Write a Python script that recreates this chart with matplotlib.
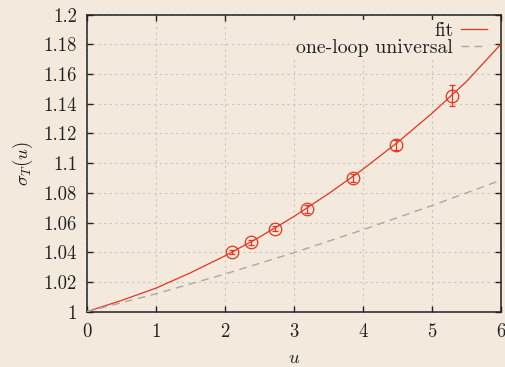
import matplotlib
matplotlib.use("Agg")
import matplotlib.pyplot as plt

u_data = [2.11, 2.38, 2.73, 3.20, 3.86, 4.49, 5.30]
sigma_data = [1.0402, 1.0467, 1.0559, 1.0692, 1.0898, 1.1123, 1.1455]
sigma_err = [0.0013, 0.0015, 0.0018, 0.0025, 0.0028, 0.0034, 0.0071]

# fit curve
u_fit = [0, 0.5, 1, 1.5, 2, 2.5, 3, 3.5, 4, 4.5, 5, 5.5, 6]
sigma_fit = [1.0, 1.0075, 1.0158, 1.0261, 1.0375, 1.0501, 1.0640, 1.0793,
             1.0958, 1.1138, 1.1334, 1.1548, 1.1800]

# one-loop universal curve
u_loop = [0, 1, 2, 3, 4, 5, 6]
sigma_loop = [1.0, 1.0120, 1.0253, 1.0397, 1.0551, 1.0714, 1.0885]

xticks = [0, 1, 2, 3, 4, 5, 6]
yticks = [1.0, 1.02, 1.04, 1.06, 1.08, 1.1, 1.12, 1.14, 1.16, 1.18, 1.2]
yticklabels = ["1", "1.02", "1.04", "1.06", "1.08", "1.1", "1.12", "1.14",
               "1.16", "1.18", "1.2"]

bg = "#f3eadd"
red = "#e8321e"
gray = "#a8a8a8"

plt.rcParams["font.family"] = "serif"
plt.rcParams["font.serif"] = ["cmr10"]
plt.rcParams["mathtext.fontset"] = "cm"
plt.rcParams["axes.formatter.use_mathtext"] = True
plt.rcParams["font.size"] = 13.5

fig = plt.figure(figsize=(5.06, 3.67), dpi=100, facecolor=bg)
ax = fig.add_axes([0.1713, 0.1507, 0.8182, 0.8093])
ax.set_facecolor(bg)

ax.plot(u_fit, sigma_fit, color=red, lw=0.9, label="fit", zorder=3)
ax.plot(u_loop, sigma_loop, color=gray, lw=1.0, dashes=(5.5, 4),
        label="one-loop universal", zorder=3)
ax.errorbar(u_data, sigma_data, yerr=sigma_err, fmt="o", mfc="none",
            mec=red, ecolor=red, ms=9, mew=0.9, elinewidth=0.9,
            capsize=2, capthick=0.9, zorder=3)

ax.set_xlim(0, 6)
ax.set_ylim(1.0, 1.2)
ax.set_xticks(xticks)
ax.set_xticklabels([str(t) for t in xticks])
ax.set_yticks(yticks)
ax.set_yticklabels(yticklabels)
ax.tick_params(direction="in", length=4.5, width=1.0, top=True, right=True,
               colors="#222222", labelcolor="#222222")
ax.tick_params(axis="x", pad=8)
ax.tick_params(axis="y", pad=7)
for s in ax.spines.values():
    s.set_linewidth(1.1)
    s.set_color("#222222")

ax.grid(True, color="#c9c6c0", lw=0.8, dashes=(2, 3))
ax.set_axisbelow(True)

ax.set_xlabel(r"$u$", color="#222222")
ax.xaxis.set_label_coords(0.5, -0.125)
ax.set_ylabel(r"$\sigma_T(u)$", color="#222222")
ax.yaxis.set_label_coords(-0.125, 0.5)

leg = ax.legend(loc="upper right", bbox_to_anchor=(0.984, 1.0),
                markerfirst=False, frameon=True, facecolor=bg,
                edgecolor="none", framealpha=1, fancybox=False,
                fontsize=14.3, handlelength=1.3, handletextpad=0.4,
                labelspacing=-0.05, borderpad=0.1, borderaxespad=0.25)
leg.set_zorder(2.5)
for t in leg.get_texts():
    t.set_color("#222222")

fig.savefig("out.png", dpi=100, facecolor=bg)
